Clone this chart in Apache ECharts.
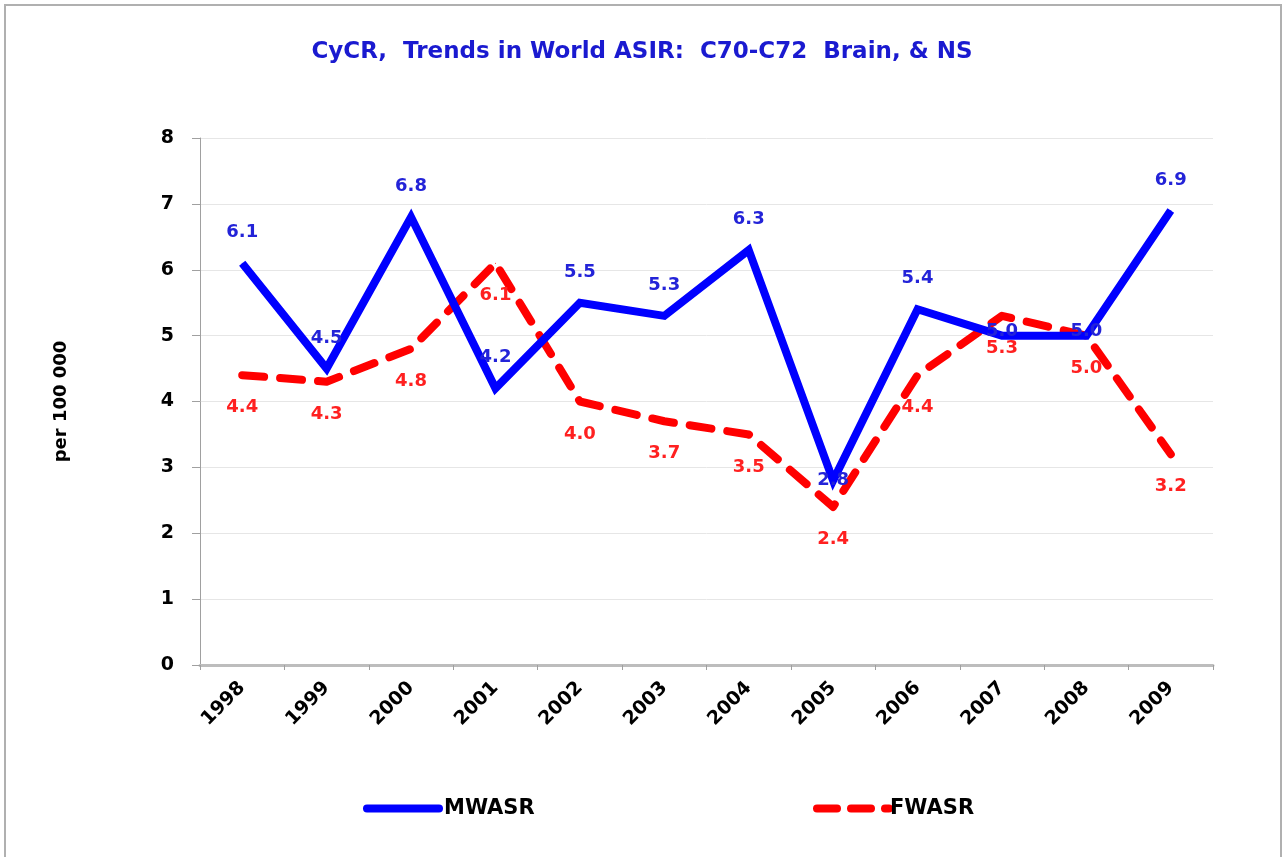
<!DOCTYPE html>
<html>
<head>
<meta charset="utf-8">
<script src="https://cdn.jsdelivr.net/npm/echarts@6/dist/echarts.min.js"></script>
<style>
html,body{margin:0;padding:0;background:#fff;}
#chart{width:1284px;height:857px;}
</style>
</head>
<body>
<div id="chart"></div>
<script>
const years = ['1998','1999','2000','2001','2002','2003','2004','2005','2006','2007','2008','2009'];
const mwasr = [6.1, 4.5, 6.8, 4.2, 5.5, 5.3, 6.3, 2.8, 5.4, 5.0, 5.0, 6.9];
const fwasr = [4.4, 4.3, 4.8, 6.1, 4.0, 3.7, 3.5, 2.4, 4.4, 5.3, 5.0, 3.2];
const yTicks = [0, 1, 2, 3, 4, 5, 6, 7, 8];

const FONT = 'DejaVu Sans';
const blue = '#0000ff';
const red = '#ff0000';

// label distance tweaks for points where the original labels sit nearly on the line
const mLabelDist = {7: -9, 9: -5, 10: -5};

const mData = mwasr.map((v, i) => (i in mLabelDist)
  ? {value: v, label: {distance: mLabelDist[i]}}
  : v);

const chart = echarts.init(document.getElementById('chart'));
chart.setOption({
  animation: false,
  backgroundColor: '#fff',
  title: {
    text: 'CyCR,  Trends in World ASIR:  C70-C72  Brain, & NS',
    left: 'center',
    top: 36,
    textStyle: {fontFamily: FONT, fontWeight: 'bold', fontSize: 23, color: '#1a1ad0'}
  },
  graphic: [{
    type: 'rect',
    shape: {x: 5, y: 5, width: 1276, height: 880},
    style: {fill: 'none', stroke: '#b0b0b0', lineWidth: 2},
    silent: true
  }],
  legend: [{
    left: 358, top: 793,
    itemWidth: 80, itemHeight: 9, itemGap: 10,
    data: [{name: 'MWASR', icon: 'path://M4,0h72a4,4 0 0 1 0,8h-72a4,4 0 0 1 0,-8z'}],
    textStyle: {fontFamily: FONT, fontWeight: 'bold', fontSize: 21, color: '#000', padding: [0,0,0,-4]}
  }, {
    left: 808, top: 793,
    itemWidth: 80, itemHeight: 9, itemGap: 10,
    data: [{name: 'FWASR', icon: 'path://M4,0h20a4,4 0 0 1 0,8h-20a4,4 0 0 1 0,-8z M38,0h20a4,4 0 0 1 0,8h-20a4,4 0 0 1 0,-8z M72,0h4a4,4 0 0 1 0,8h-4a4,4 0 0 1 0,-8z'}],
    textStyle: {fontFamily: FONT, fontWeight: 'bold', fontSize: 21, color: '#000', padding: [0,0,0,-8]}
  }],
  grid: {left: 200, right: 71, top: 138, bottom: 192, containLabel: false},
  xAxis: {
    type: 'category',
    data: years,
    boundaryGap: true,
    axisLine: {show: true, lineStyle: {color: '#bdbdbd', width: 3}},
    axisTick: {show: true, alignWithLabel: false, length: 5, lineStyle: {color: '#a0a0a0', width: 1}},
    axisLabel: {rotate: 45, margin: 20, fontFamily: FONT, fontWeight: 'bold', fontSize: 19, color: '#000'},
    splitLine: {show: false}
  },
  yAxis: {
    type: 'value',
    min: yTicks[0], max: yTicks[yTicks.length - 1], interval: 1,
    name: 'per 100 000',
    nameLocation: 'middle',
    nameGap: 130,
    nameRotate: 90,
    nameTextStyle: {fontFamily: FONT, fontWeight: 'bold', fontSize: 18, color: '#000'},
    axisLine: {show: true, lineStyle: {color: '#a0a0a0', width: 1}},
    axisTick: {show: true, length: 8, lineStyle: {color: '#a0a0a0'}},
    axisLabel: {margin: 26, fontFamily: FONT, fontWeight: 'bold', fontSize: 19, color: '#000'},
    splitLine: {show: true, lineStyle: {color: '#e6e6e6', width: 1}}
  },
  series: [{
    name: 'MWASR',
    type: 'line',
    data: mData,
    symbol: 'circle', symbolSize: 1, showSymbol: true,
    itemStyle: {color: blue},
    lineStyle: {color: blue, width: 8, join: 'miter'},
    label: {show: true, position: 'top', distance: 21, formatter: p => Number(p.value).toFixed(1),
      fontFamily: FONT, fontWeight: 'bold', fontSize: 18, color: '#2323d8'},
    z: 3
  }, {
    name: 'FWASR',
    type: 'line',
    data: fwasr,
    symbol: 'circle', symbolSize: 1, showSymbol: true,
    itemStyle: {color: red},
    lineStyle: {color: red, width: 8, type: [22, 16], cap: 'round', join: 'round'},
    label: {show: true, position: 'bottom', distance: 23, formatter: p => Number(p.value).toFixed(1),
      fontFamily: FONT, fontWeight: 'bold', fontSize: 18, color: '#ff2020'},
    z: 2
  }]
});
</script>
</body>
</html>
